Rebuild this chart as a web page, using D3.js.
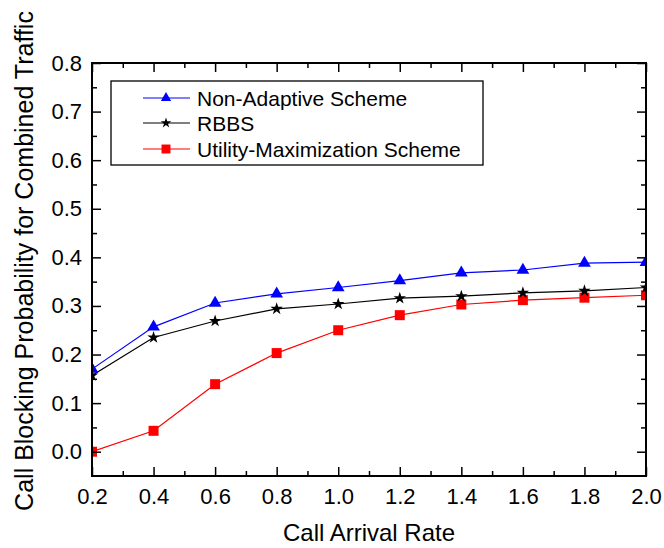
<!DOCTYPE html>
<html><head><meta charset="utf-8">
<script src="https://cdn.jsdelivr.net/npm/d3@7"></script>
<style>
body{margin:0;background:#fff;}
text{font-family:"Liberation Sans",Arial,sans-serif;fill:#000;}
</style></head>
<body><svg id="c" width="664" height="548"></svg>
<script>
const rates = [0.2,0.4,0.6,0.8,1.0,1.2,1.4,1.6,1.8,2.0];
const nonAdaptive = [0.170,0.257,0.306,0.325,0.338,0.352,0.368,0.374,0.388,0.390];
const rbbs = [0.157,0.235,0.269,0.294,0.304,0.316,0.320,0.327,0.331,0.338];
const utilityMax = [0.000,0.043,0.139,0.203,0.250,0.281,0.303,0.312,0.317,0.322];
const xTicks = [0.2,0.4,0.6,0.8,1.0,1.2,1.4,1.6,1.8,2.0];
const yTicks = [0.0,0.1,0.2,0.3,0.4,0.5,0.6,0.7,0.8];
const seriesNames = ["Non-Adaptive Scheme","RBBS","Utility-Maximization Scheme"];

const L=92,R=646,T=63,B=476;
const svg=d3.select("#c");
const x=d3.scaleLinear().domain([0.2,2.0]).range([L,R]);
const y=d3.scaleLinear().domain([-0.05,0.8]).range([B,T]);

const xMinor=d3.range(0.3,2.0,0.2);
const yMinor=d3.range(0.05,0.8,0.1);

svg.append("defs").append("clipPath").attr("id","clip")
  .append("rect").attr("x",L).attr("y",T).attr("width",R-L).attr("height",B-T);

const series=[
  {name:seriesNames[2],vals:utilityMax,color:"#ff0000",sym:d3.symbolSquare,size:100,lsize:80},
  {name:seriesNames[1],vals:rbbs,color:"#000000",sym:d3.symbolStar,size:48,lsize:34},
  {name:seriesNames[0],vals:nonAdaptive,color:"#0000ff",sym:d3.symbolTriangle,size:70,lsize:46}
];
const g=svg.append("g").attr("clip-path","url(#clip)");
const line=d3.line().x((d,i)=>x(rates[i])).y(d=>y(d));
series.forEach(s=>{
  g.append("path").attr("d",line(s.vals)).attr("fill","none").attr("stroke",s.color).attr("stroke-width",1.2);
});
series.forEach(s=>{
  g.selectAll(null).data(s.vals).enter().append("path")
    .attr("d",d3.symbol().type(s.sym).size(s.size))
    .attr("transform",(d,i)=>`translate(${x(rates[i])},${y(d)})`)
    .attr("fill",s.color);
});

function styleAxis(sel){
  sel.select(".domain").remove();
  sel.selectAll("line").attr("stroke","#000").attr("stroke-width",1.5);
  sel.selectAll("text").style("font-size","22px").style("font-family",'"Liberation Sans",Arial,sans-serif');
}
// bottom
svg.append("g").attr("transform",`translate(0,${B})`)
  .call(d3.axisBottom(x).tickValues(xTicks).tickFormat(d3.format(".1f")).tickSize(-9).tickPadding(12)).call(styleAxis);
svg.append("g").attr("transform",`translate(0,${B})`)
  .call(d3.axisBottom(x).tickValues(xMinor).tickFormat("").tickSize(-5)).call(styleAxis);
// top
svg.append("g").attr("transform",`translate(0,${T})`)
  .call(d3.axisTop(x).tickValues(xTicks).tickFormat("").tickSize(-9)).call(styleAxis);
svg.append("g").attr("transform",`translate(0,${T})`)
  .call(d3.axisTop(x).tickValues(xMinor).tickFormat("").tickSize(-5)).call(styleAxis);
// left
svg.append("g").attr("transform",`translate(${L},0)`)
  .call(d3.axisLeft(y).tickValues(yTicks).tickFormat(d3.format(".1f")).tickSize(-9).tickPadding(10)).call(styleAxis);
svg.append("g").attr("transform",`translate(${L},0)`)
  .call(d3.axisLeft(y).tickValues(yMinor).tickFormat("").tickSize(-5)).call(styleAxis);
// right
svg.append("g").attr("transform",`translate(${R},0)`)
  .call(d3.axisRight(y).tickValues(yTicks).tickFormat("").tickSize(-9)).call(styleAxis);
svg.append("g").attr("transform",`translate(${R},0)`)
  .call(d3.axisRight(y).tickValues(yMinor).tickFormat("").tickSize(-5)).call(styleAxis);

svg.append("rect").attr("x",L).attr("y",T).attr("width",R-L).attr("height",B-T)
  .attr("fill","none").attr("stroke","#000").attr("stroke-width",2);

svg.append("text").attr("x",(L+R)/2).attr("y",541).attr("text-anchor","middle")
  .style("font-size","24px").text("Call Arrival Rate");
svg.append("text").attr("transform","translate(33,261) rotate(-90)").attr("text-anchor","middle")
  .style("font-size","25px").text("Call Blocking Probability for Combined Traffic");

// legend
const lg=svg.append("g");
lg.append("rect").attr("x",111).attr("y",81).attr("width",372).attr("height",84)
  .attr("fill","#fff").attr("stroke","#000").attr("stroke-width",1.3);
const legOrder=[series[2],series[1],series[0]];
const rowY=[98,123,149];
legOrder.forEach((s,i)=>{
  lg.append("line").attr("x1",143).attr("x2",190).attr("y1",rowY[i]).attr("y2",rowY[i]).attr("stroke",s.color).attr("stroke-width",1.2);
  lg.append("path").attr("d",d3.symbol().type(s.sym).size(s.lsize)).attr("transform",`translate(166,${rowY[i]})`).attr("fill",s.color);
  lg.append("text").attr("x",197).attr("y",rowY[i]).attr("dy","0.36em").style("font-size","21px").text(s.name);
});
</script></body></html>
